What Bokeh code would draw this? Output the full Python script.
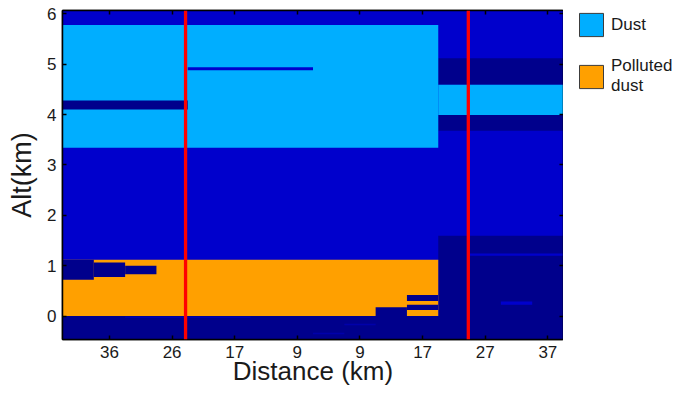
import math
from bokeh.plotting import figure
from bokeh.layouts import row
from bokeh.models import (Range1d, FixedTicker, LinearAxis, Span,
                          Legend, LegendItem, ColumnDataSource)
from bokeh.embed import file_html
from bokeh.resources import INLINE

# ---------------- data ----------------
dist_tick_pos = [1.5, 3.5, 5.5, 7.5, 9.5, 11.5, 13.5, 15.5]
dist_tick_labels = ["36", "26", "17", "9", "9", "17", "27", "37"]
alt_ticks = [0, 1, 2, 3, 4, 5, 6]
profile_range = [0, 16]
alt_range = [-0.465, 6.066]
red_line_x = [3.93, 12.96]

# layers (drawn in order): class, profile start/end, altitude bottom/top (km)
seg_class = ["clean", "nosig", "nosig", "nosig", "nosig",
             "dust", "dust", "polluted",
             "nosig", "nosig", "nosig", "nosig", "nosig", "nosig", "nosig",
             "clean", "clean", "clean",
             "weak", "weak", "weak"]
seg_x0 = [0, 0, 12, 12, 12,
          0, 12, 0,
          0, 0, 1, 2, 10, 11, 11,
          4, 13, 14,
          2, 8, 9]
seg_x1 = [16, 16, 16, 16, 16,
          12, 16, 12,
          4, 1, 2, 3, 11, 12, 12,
          8, 16, 15,
          6, 9, 10]
seg_y0 = [-0.465, -0.465, -0.465, 4.59, 3.68,
          3.34, 3.99, 0.0,
          4.10, 0.72, 0.775, 0.83, 0.0, 0.30, 0.122,
          4.88, 1.20, 0.227,
          -0.04, -0.36, -0.18]
seg_y1 = [6.066, 0.0, 1.595, 5.12, 3.99,
          5.78, 4.59, 1.118,
          4.28, 1.118, 1.066, 1.0, 0.174, 0.417, 0.227,
          4.94, 1.24, 0.29,
          -0.01, -0.33, -0.15]

legend_classes = ["dust", "polluted"]
legend_labels = ["Dust", "Polluted\ndust"]
x_title = "Distance (km)"
y_title = "Alt(km)"

class_colors = {"clean": "#0000CC", "nosig": "#00008C", "dust": "#00AEFF",
                "polluted": "#FFA000", "weak": "#0000AA"}

# ---------------- main figure ----------------
FONT = "Liberation Sans"
p = figure(frame_width=501, frame_height=329, output_backend="svg", toolbar_location=None,
           x_range=Range1d(*profile_range), y_range=Range1d(*alt_range),
           min_border_left=62, min_border_right=0, min_border_top=10,
           min_border_bottom=0, x_axis_location=None, y_axis_location=None)
p.grid.visible = False
p.outline_line_color = "black"
p.outline_line_width = 1.5
p.background_fill_color = "white"

src = ColumnDataSource(dict(left=seg_x0, right=seg_x1, bottom=seg_y0, top=seg_y1,
                            color=[class_colors[c] for c in seg_class]))
p.quad(left="left", right="right", bottom="bottom", top="top", source=src,
       fill_color="color", line_color=None)

for xr in red_line_x:
    p.add_layout(Span(location=xr, dimension="height", line_color="#FF0000",
                      line_width=3.3))

def style(ax, labels=True):
    ax.axis_line_color = "black"
    ax.axis_line_width = 1.5
    ax.major_tick_in = 4
    ax.major_tick_out = 0
    ax.major_tick_line_color = "black"
    ax.major_tick_line_width = 1.5
    ax.minor_tick_line_color = None
    ax.major_label_text_font = FONT
    ax.major_label_text_color = "#1a1a1a"
    ax.axis_label_text_font = FONT
    ax.axis_label_text_font_style = "normal"
    ax.axis_label_text_color = "#1a1a1a"
    if labels:
        ax.major_label_text_font_size = "17px"
    else:
        ax.major_label_text_font_size = "0px"
        ax.major_label_standoff = 0

xt = FixedTicker(ticks=dist_tick_pos)
yt = FixedTicker(ticks=alt_ticks)
overrides = {t: l for t, l in zip(dist_tick_pos, dist_tick_labels)}

xb = LinearAxis(ticker=xt, major_label_overrides=overrides, axis_label=x_title)
style(xb)
xb.major_label_standoff = 6
xb.axis_label_text_font_size = "26px"
xb.axis_label_standoff = -5
p.add_layout(xb, "below")
xa = LinearAxis(ticker=xt, major_label_overrides={t: "" for t in dist_tick_pos})
style(xa, labels=False)
p.add_layout(xa, "above")
yl = LinearAxis(ticker=yt, axis_label=y_title)
style(yl)
yl.major_label_standoff = 6
yl.axis_label_text_font_size = "27px"
yl.axis_label_standoff = 7
p.add_layout(yl, "left")
yr = LinearAxis(ticker=yt, major_label_overrides={t: "" for t in alt_ticks})
style(yr, labels=False)
p.add_layout(yr, "right")

# ---------------- legend panel ----------------
# a companion figure whose view holds no data; it only hosts the legend,
# whose keys are the dust / polluted-dust layers themselves
lf = figure(frame_width=99, frame_height=329, output_backend="svg", toolbar_location=None,
            x_range=Range1d(100, 101), y_range=Range1d(100, 101),
            min_border_left=13, min_border_right=0, min_border_top=10,
            min_border_bottom=49, x_axis_location=None, y_axis_location=None)
lf.grid.visible = False
lf.outline_line_color = None
key_r = lf.quad(left="left", right="right", bottom="bottom", top="top", source=src,
                fill_color="color", line_color="#3c3c3c", line_width=1)
leg_items = [LegendItem(label=lab, renderers=[key_r], index=seg_class.index(c))
             for c, lab in zip(legend_classes, legend_labels)]
legend = Legend(items=leg_items, location="top_left", padding=0, margin=0, spacing=17,
                glyph_width=30, glyph_height=29, label_standoff=5,
                label_text_font=FONT, label_text_font_size="17px",
                label_text_line_height=1.1, label_text_color="#1a1a1a",
                border_line_color=None, background_fill_alpha=0)
lf.add_layout(legend, "center")

layout = row(p, lf, spacing=0)
open("out.html", "w").write(file_html(layout, INLINE))
